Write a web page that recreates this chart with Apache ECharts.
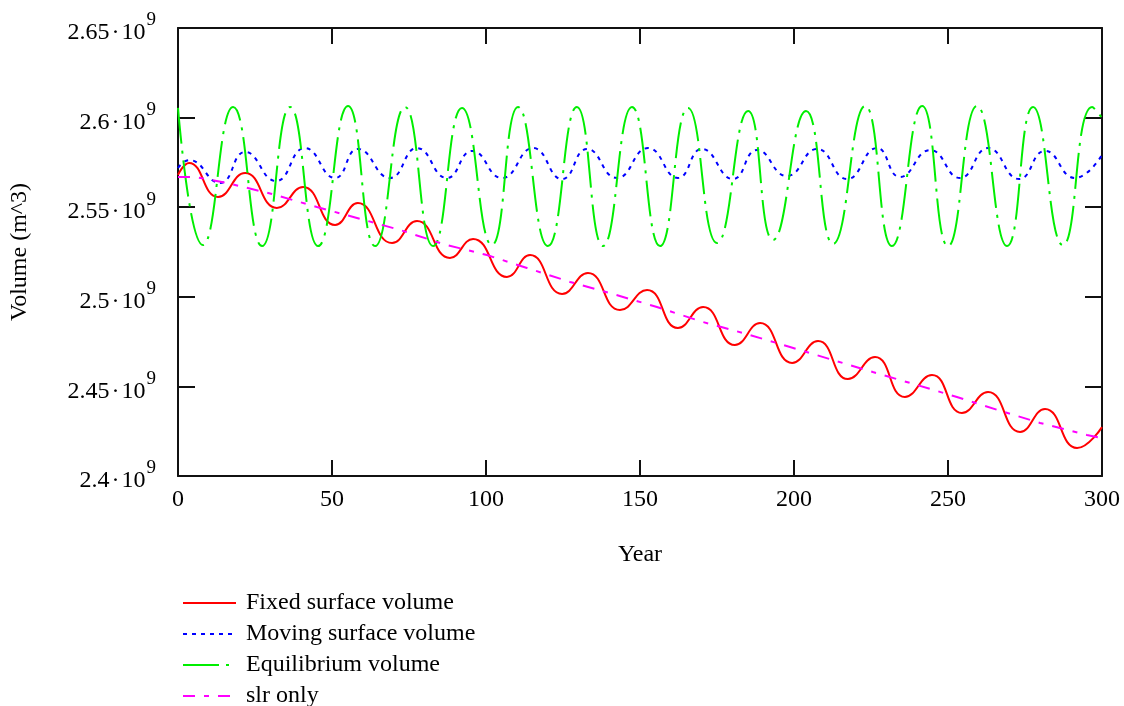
<!DOCTYPE html>
<html>
<head>
<meta charset="utf-8">
<script src="https://cdn.jsdelivr.net/npm/echarts@6/dist/echarts.min.js"></script>
<style>
  html, body { margin: 0; padding: 0; background: #fff; }
  #chart { width: 1124px; height: 706px; }
</style>
</head>
<body>
<div id="chart"></div>
<script>
// volumes are in units of 1e9 m^3
var fixedYears = [0, 3.6, 13.0, 21.8, 32.1, 40.6, 51.0, 58.4, 69.5, 77.6, 88.3, 95.8, 106.8, 114.3, 124.7, 133.1, 143.5, 152.3,
  162.3, 170.5, 180.8, 189.0, 199.4, 207.8, 217.5, 226.3, 236.0, 244.8, 254.5, 263.0, 273.4, 281.5, 291.9, 300];
var fixedVals = [2.568, 2.5747, 2.5557, 2.5691, 2.5496, 2.5613, 2.5401, 2.5523, 2.5300, 2.5423, 2.5217, 2.5323, 2.5111, 2.5233,
  2.5016, 2.5133, 2.4926, 2.5038, 2.4826, 2.4943, 2.4731, 2.4854, 2.4631, 2.4753, 2.4541, 2.4664, 2.4441, 2.4564,
  2.4352, 2.4469, 2.4246, 2.4374, 2.4156, 2.4273];

var movingYears = [0, 3.6, 13.6, 21.8, 31.8, 41.2, 51.0, 58.4, 68.8, 77.6, 87.3, 95.5, 105.2, 115.3, 124.7, 132.8, 142.5, 152.6,
  162.3, 170.1, 180.2, 188.0, 197.7, 207.5, 217.2, 226.9, 234.4, 244.2, 253.9, 263.0, 273.1, 281.5, 291.2, 300];
var movingVals = [2.5719, 2.5763, 2.5635, 2.5808, 2.5646, 2.5830, 2.5663, 2.5825, 2.5663, 2.5830, 2.5663, 2.5814, 2.5663,
  2.5830, 2.5657, 2.5825, 2.5663, 2.5830, 2.5663, 2.5825, 2.5657, 2.5819, 2.5674, 2.5825, 2.5657, 2.5830, 2.5669,
  2.5819, 2.5663, 2.5830, 2.5657, 2.5814, 2.5663, 2.5791];

var equilYears = [0, 8.1, 17.9, 27.3, 36.4, 45.5, 55.2, 64.0, 73.7, 82.8, 92.2, 101.9, 110.4, 120.1, 129.5, 138.0, 147.4,
  156.5, 165.6, 175.0, 185.1, 193.2, 203.9, 212.7, 223.1, 231.8, 241.6, 250.0, 259.4, 269.2, 277.6, 287.3, 296.8, 300];
var equilVals = [2.6054, 2.5289, 2.6059, 2.5283, 2.6059, 2.5283, 2.6065, 2.5283, 2.6059, 2.5283, 2.6054, 2.5289, 2.6059,
  2.5283, 2.6059, 2.5283, 2.6059, 2.5283, 2.6054, 2.5300, 2.6037, 2.5317, 2.6037, 2.5295, 2.6065, 2.5283, 2.6065,
  2.5283, 2.6065, 2.5283, 2.6059, 2.5289, 2.6059, 2.5998];

var slrYears = [0, 5.5, 15.9, 30.5, 45.1, 58.1, 72.1, 86.0, 100.3, 113.3, 127.3, 141.2, 155.5, 170.5, 184.7, 198.7, 212.7,
  225.6, 239.9, 252.9, 266.2, 279.9, 295.1, 300];
var slrVals = [2.5669, 2.5669, 2.5635, 2.5574, 2.5501, 2.5440, 2.5373, 2.5295, 2.5233, 2.5161, 2.5083, 2.5016, 2.4943,
  2.4859, 2.4792, 2.4720, 2.4647, 2.4580, 2.4508, 2.4441, 2.4368, 2.4296, 2.4229, 2.4212];

var seriesNames = ["Fixed surface volume", "Moving surface volume", "Equilibrium volume", "slr only"];

function pairs(xs, ys) {
  var arr = [];
  for (let i in xs) {
    arr.push([xs[i], ys[i]]);
  }
  return arr;
}

var font = "'Liberation Serif', 'Times New Roman', serif";
var frame = "#111";

function mkX(pos, showLabels) {
  return {
    type: "value",
    position: pos,
    min: 0,
    max: 300,
    interval: 50,
    name: showLabels ? "Year" : "",
    nameLocation: "middle",
    nameGap: 67,
    nameTextStyle: { fontFamily: font, fontSize: 24, color: "#000" },
    splitLine: { show: false },
    axisLine: { show: true, onZero: false, lineStyle: { color: frame, width: 2 } },
    axisTick: { show: true, inside: true, length: 16, lineStyle: { color: frame, width: 2 } },
    axisLabel: { show: showLabels, margin: 12, fontFamily: font, fontSize: 24, color: "#000" }
  };
}

function mkY(pos, showLabels) {
  return {
    type: "value",
    position: pos,
    min: 2.4,
    max: 2.65,
    interval: 0.05,
    name: showLabels ? "Volume (m^3)" : "",
    nameLocation: "middle",
    nameRotate: 90,
    nameGap: 146,
    nameTextStyle: { fontFamily: font, fontSize: 24, color: "#000" },
    splitLine: { show: false },
    axisLine: { show: true, onZero: false, lineStyle: { color: frame, width: 2 } },
    axisTick: { show: true, inside: true, length: 17, lineStyle: { color: frame, width: 2 } },
    axisLabel: {
      show: showLabels,
      margin: 22,
      formatter: function (v) {
        return "{a|" + String(+v.toFixed(2)) + "\u200a·\u200a10}{s|9}";
      },
      rich: {
        a: { fontFamily: font, fontSize: 24, color: "#000", lineHeight: 34, verticalAlign: "bottom" },
        s: { fontFamily: font, fontSize: 19, color: "#000", lineHeight: 34, verticalAlign: "top", padding: [0, 0, 0, 1] }
      }
    }
  };
}

var myChart = echarts.init(document.getElementById("chart"));
var option = {
  animation: false,
  backgroundColor: "#fff",
  grid: { left: 178, right: 22, top: 28, bottom: 230, containLabel: false, outerBoundsMode: "none" },
  legend: {
    orient: "vertical",
    left: 182,
    top: 591,
    height: 140,
    padding: 0,
    itemWidth: 53,
    itemHeight: 14,
    itemGap: 7,
    data: seriesNames,
    itemStyle: { opacity: 0 },
    textStyle: { fontFamily: font, fontSize: 24, color: "#000", padding: [0, 0, 0, 5] }
  },
  xAxis: [mkX("bottom", true), mkX("top", false)],
  yAxis: [mkY("left", true), mkY("right", false)],
  series: [
    {
      name: seriesNames[0], type: "line", smooth: 0.5, symbol: "none",
      data: pairs(fixedYears, fixedVals),
      lineStyle: { color: "#ff0000", width: 2, type: "solid" },
      itemStyle: { color: "#ff0000" }
    },
    {
      name: seriesNames[1], type: "line", smooth: 0.5, symbol: "none",
      data: pairs(movingYears, movingVals),
      lineStyle: { color: "#0000ff", width: 2, type: [4, 5] },
      itemStyle: { color: "#0000ff" }
    },
    {
      name: seriesNames[2], type: "line", smooth: 0.5, symbol: "none",
      data: pairs(equilYears, equilVals),
      lineStyle: { color: "#00ee00", width: 2, type: [36, 7, 3, 7] },
      itemStyle: { color: "#00ee00" }
    },
    {
      name: seriesNames[3], type: "line", smooth: false, symbol: "none",
      data: pairs(slrYears, slrVals),
      lineStyle: { color: "#ff00ff", width: 2, type: [12, 9, 5, 9] },
      itemStyle: { color: "#ff00ff" }
    }
  ]
};
myChart.setOption(option);
</script>
</body>
</html>
